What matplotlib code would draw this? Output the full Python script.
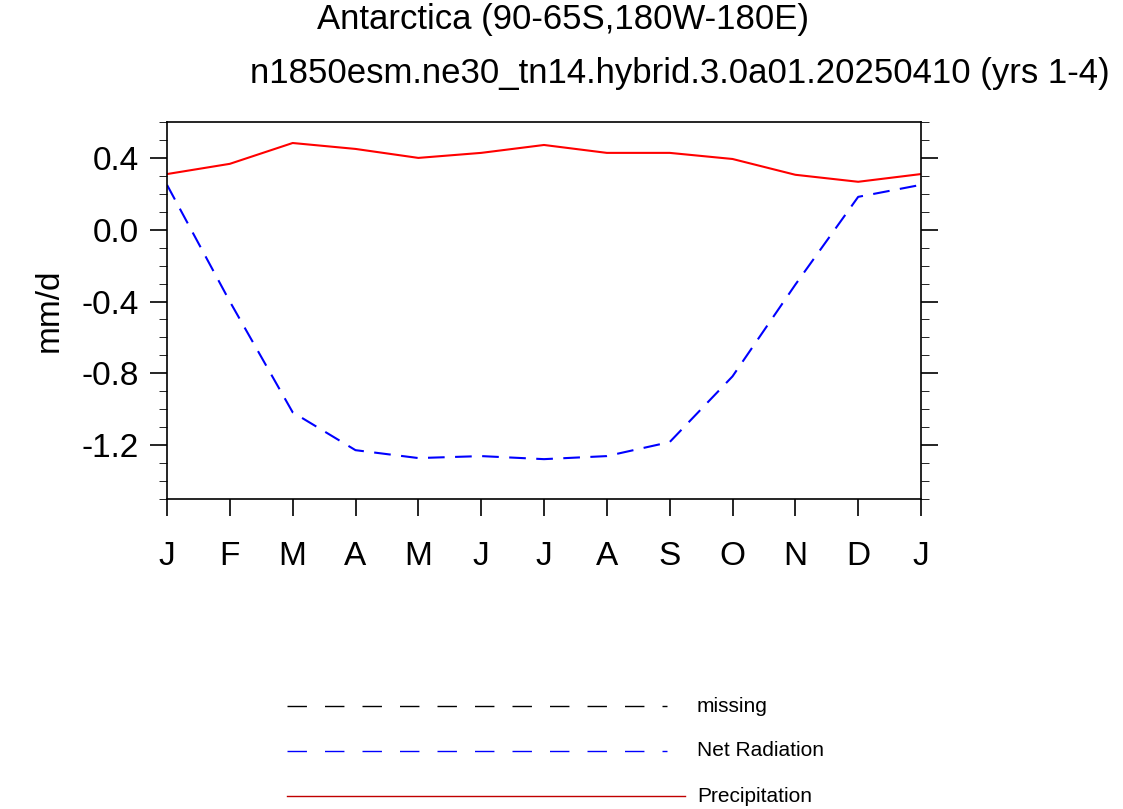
import matplotlib
matplotlib.use("Agg")
import matplotlib.pyplot as plt
from matplotlib.lines import Line2D
import numpy as np

plt.rcParams['font.family'] = ['Liberation Sans', 'DejaVu Sans']

months = ["J", "F", "M", "A", "M", "J", "J", "A", "S", "O", "N", "D", "J"]
precip = [0.31, 0.367, 0.483, 0.45, 0.40, 0.428, 0.472, 0.428, 0.428, 0.394, 0.306, 0.267, 0.31]
net_rad = [0.25, -0.40, -1.017, -1.228, -1.272, -1.261, -1.278, -1.261, -1.183, -0.817, -0.306, 0.183, 0.25]

fig = plt.figure(figsize=(11.23, 8.09), dpi=100)
ax = fig.add_axes([167/1123, 1 - 499/809, 754/1123, 377/809])
x = np.arange(len(months))
ax.plot(x, precip, color="red", lw=1.5)
ax.plot(x, net_rad, color="blue", lw=1.5, dashes=(8, 5))

ax.set_xlim(0, 12)
ax.set_ylim(-1.5, 0.6)
ax.set_xticks(x)
ax.set_xticklabels(months)
ax.set_yticks([0.4, 0.0, -0.4, -0.8, -1.2])
ax.set_yticklabels(["0.4", "0.0", "-0.4", "-0.8", "-1.2"])
ax.set_yticks(np.arange(-1.5, 0.61, 0.1), minor=True)
ax.tick_params(axis="both", which="major", direction="out", length=12, width=1.2,
               labelsize=24, right=True, top=False, pad=8)
ax.tick_params(axis="y", which="minor", direction="out", length=6, right=True)
ax.tick_params(axis="x", which="major", top=False, pad=18)
for s in ax.spines.values():
    s.set_linewidth(1.2)
ax.set_ylabel("mm/d", fontsize=24, labelpad=12)

fig.text(563/1123, 1 - 20/809, "Antarctica (90-65S,180W-180E)", fontsize=25,
         ha="center", va="center")
fig.text(1110/1123, 1 - 74/809, "n1850esm.ne30_tn14.hybrid.3.0a01.20250410 (yrs 1-4)",
         fontsize=25, ha="right", va="center")

legend_items = [("missing", "black", (14, 13)), ("Net Radiation", "blue", (14, 13)),
                ("Precipitation", "#c00000", None)]
for i, (label, color, dash) in enumerate(legend_items):
    yy = 1 - (706 + 45 * i) / 809
    ln = Line2D([287/1123, 667/1123 if dash else 685/1123], [yy, yy], transform=fig.transFigure,
                color=color, lw=1)
    if dash:
        ln.set_dashes(dash)
    fig.lines.append(ln)
    fig.text(697/1123, yy, label, fontsize=15, ha="left", va="center")

fig.savefig("out.png", dpi=100)
